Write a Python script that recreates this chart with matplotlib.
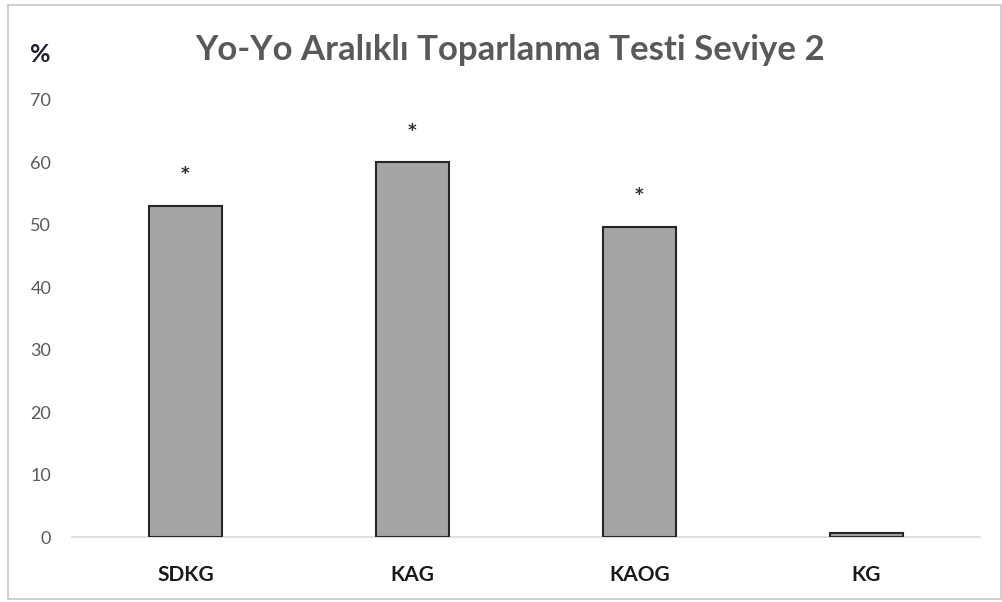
import matplotlib
matplotlib.use('Agg')
import matplotlib.pyplot as plt
import matplotlib.transforms as mtransforms
from matplotlib.patches import Rectangle

groups = ['SDKG', 'KAG', 'KAOG', 'KG']
values = [53, 60, 49.7, 0.6]
marks = ['*', '*', '*', '']

plt.rcParams['font.family'] = ['Lato', 'DejaVu Sans']

fig = plt.figure(figsize=(10.03, 6.02), dpi=100)
ax = fig.add_axes([72/1003, 1 - 537/602, 908/1003, 437/602])

x = range(len(groups))
ax.bar(x, values, width=0.32, color='#a5a5a5', edgecolor='#262626', linewidth=1.5, zorder=3)
for i, (v, m) in enumerate(zip(values, marks)):
    if m:
        ax.annotate(m, (i, v), xytext=(0, 12), textcoords='offset points',
                    ha='center', va='bottom', fontsize=18, fontweight='bold', color='#333333')

ax.set_xlim(-0.5, 3.5)
ax.set_ylim(0, 70)
ax.set_yticks(range(0, 71, 10))
ax.set_xticks(list(x))
ax.set_xticklabels(groups, fontsize=15, fontweight='bold', color='#1a1a1a')
# labels in the original sit at slightly uneven heights
for lbl, dy in zip(ax.get_xticklabels(), [0, 0, -4, 5]):
    lbl.set_transform(lbl.get_transform() + mtransforms.ScaledTranslation(0, dy/72, fig.dpi_scale_trans))
ax.tick_params(axis='x', length=0, pad=20)
ax.tick_params(axis='y', length=0, pad=15, labelsize=13, labelcolor='#595959')
for s in ['top', 'right', 'left']:
    ax.spines[s].set_visible(False)
ax.spines['bottom'].set_color('#d9d9d9')
ax.spines['bottom'].set_linewidth(1.2)

fig.text(510/1003, 1 - 50/602, 'Yo-Yo Aralıklı Toparlanma Testi Seviye 2', ha='center', va='center',
         fontsize=25, fontweight='bold', color='#595959')
fig.text(40/1003, 1 - 55/602, '%', ha='center', va='center', fontsize=18, fontweight='bold', color='#1f1f2f')

fig.patches.append(Rectangle((8/1003, 3/602), 993/1003, 594/602, transform=fig.transFigure,
                             fill=False, edgecolor='#d0d0d0', linewidth=1.5))

fig.savefig('out.png', dpi=100)
